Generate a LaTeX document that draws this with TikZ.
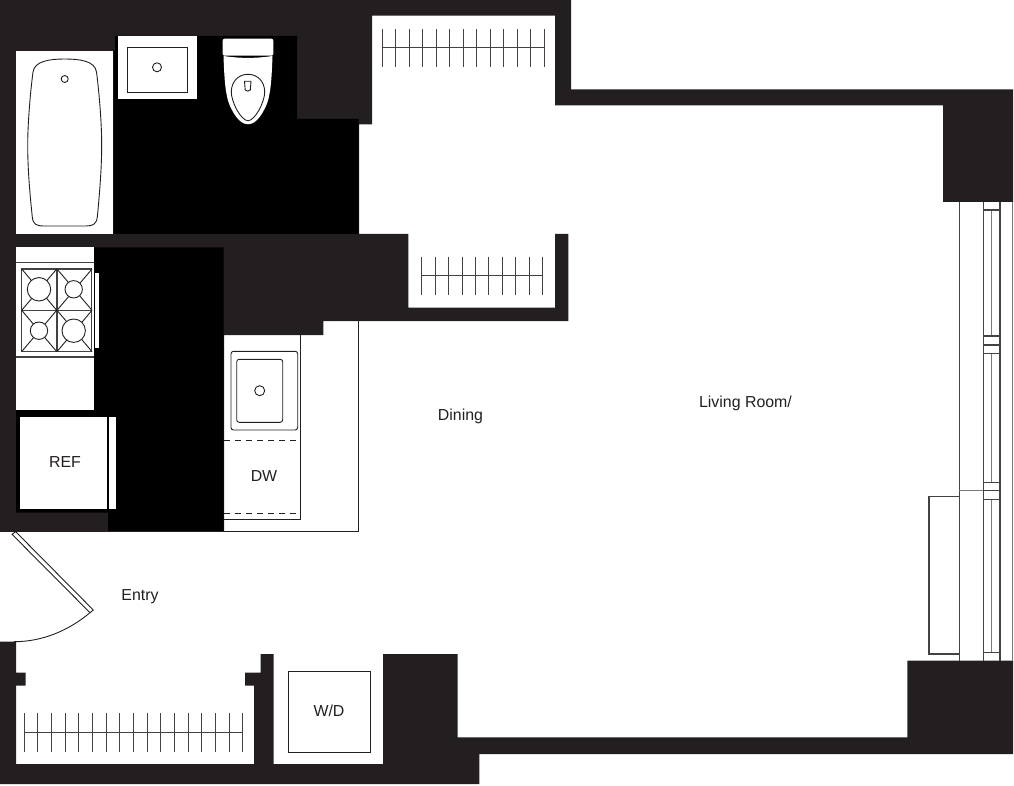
\documentclass[tikz,border=0pt]{standalone}
\usepackage{fontspec}
\setmainfont{Liberation Sans}
\usetikzlibrary{calc,positioning}
\definecolor{wallcol}{HTML}{231F20}
\tikzset{
  wall/.style={fill=wallcol,draw=none},
  fix/.style={draw=wallcol,line width=0.9pt},
  fixw/.style={draw=wallcol,line width=0.9pt,fill=white},
  stove/.style={draw=wallcol!85,line width=1.2pt},
  blackfill/.style={fill=black,draw=none},
  whitefill/.style={fill=white,draw=none},
  win/.style={draw=wallcol!85,line width=1.1pt},
  rod/.style={draw=wallcol!85,line width=1pt},
  lab/.style={text=wallcol,font=\fontsize{15.9}{18}\selectfont,inner sep=0pt}
}
\begin{document}
\begin{tikzpicture}[x=1pt,y=-1pt]
            \useasboundingbox (0,0) rectangle (1014,786);
            % upper walls
            \fill[wall] (0,0) -- (571,0) -- (571,89.3) -- (1013,89.3) -- (1013,202) -- (943,202) -- (943,105.3) -- (555,105.3) -- (555,15.7) -- (372,15.7) -- (372,124.3) -- (359,124.3) -- (359,234) -- (408.3,234) -- (408.3,307.7) -- (555,307.7) -- (555,234) -- (568.3,234) -- (568.3,321) -- (323.3,321) -- (323.3,335) -- (224,335) -- (224,531.7) -- (0,531.7) -- cycle;
            % lower walls
            \fill[wall] (0,641.7) -- (16,641.7) -- (16,672.7) -- (25.7,672.7) -- (25.7,685.7) -- (16,685.7) -- (16,764) -- (254,764) -- (254,685.7) -- (245,685.7) -- (245,672.7) -- (260.7,672.7) -- (260.7,654) -- (273.7,654) -- (273.7,764) -- (383,764) -- (383,654) -- (457.7,654) -- (457.7,737.3) -- (907.3,737.3) -- (907.3,660.7) -- (1013,660.7) -- (1013,754) -- (479.3,754) -- (479.3,784) -- (0,784) -- cycle;

            % bath and kitchen floors
            \fill[blackfill] (115,36) -- (297,36) -- (297,119) -- (358.7,119) -- (358.7,234) -- (113.5,234) -- (113.5,51) -- (115,51) -- cycle;
            \fill[blackfill] (94,247.5) -- (223.7,247.5) -- (223.7,531.7) -- (108,531.7) -- (108,512.7) -- (16,512.7) -- (16,410) -- (94,410) -- cycle;

            % bath
            \fill[whitefill] (16,51) rectangle (113,234);
            \draw[fix] (64.5,59) .. controls (80,59) and (95,61) .. (96.5,72) .. controls (99.5,95) and (101.7,125) .. (101.7,145) .. controls (101.7,170) and (99,200) .. (97.3,217) .. controls (96.5,224) and (93,226) .. (86,226) -- (44,226) .. controls (36,226) and (33,224) .. (32.3,217) .. controls (30,195) and (27.7,170) .. (27.7,145) .. controls (27.7,125) and (30,95) .. (33,72) .. controls (34.5,61) and (50,59) .. (64.5,59) -- cycle;
            \draw[fix] (64.7,79) circle (3.5);
            \fill[whitefill] (117.7,36) rectangle (197,99.3);
            \draw[fix] (127,47.3) rectangle (187.3,92);
            \draw[fix] (157,67.3) circle (4.5);

            % toilet
            \fill[whitefill,rounded corners=2pt] (222.7,38.7) rectangle (273.3,55.7);
            \fill[whitefill] (223.5,56) .. controls (240,58.5) and (256,58.5) .. (272.5,56) .. controls (271.5,85) and (270,100) .. (264,110) .. controls (259,120) and (253,124.3) .. (248,124.3) .. controls (243,124.3) and (237,120) .. (232,110) .. controls (226,100) and (224.5,85) .. (223.5,56) -- cycle;
            \draw[fix] (248,74.3) .. controls (258,74.3) and (264.7,82) .. (264.7,92) .. controls (264.7,102) and (255,120.7) .. (248,120.7) .. controls (241,120.7) and (231.3,102) .. (231.3,92) .. controls (231.3,82) and (238,74.3) .. (248,74.3) -- cycle;
            \draw[fix] (244.5,81.3) -- (251,81.3) -- (250.3,90) .. controls (249,91.5) and (246.5,91.5) .. (245.2,90) -- cycle;

            % range
            \fill[whitefill] (16,247.5) rectangle (94.3,410);
            \draw[stove] (16,262.7) -- (94.3,262.7);
            \draw[stove] (16,357) -- (94.3,357);
            \draw[stove] (21.7,269) rectangle (91.7,351.7);
            \draw[stove] (57,269) -- (57,351.7);
            \draw[stove] (21.7,310.3) -- (91.7,310.3);
            \foreach \cx/\cy in {21.7/269,57/269,21.7/310.3,57/310.3}{
              \draw[fix] (\cx,\cy) -- ++(35,41.3);
              \draw[fix] (\cx,\cy) ++(35,0) -- ++(-35,41.3);
            }
            \foreach \bx/\by/\br in {39/289.3/11.7,73.7/289.3/8.7,39/330.7/8.7,73.7/330.7/11.7}{
              \draw[fixw] (\bx,\by) circle (\br);
            }
            \fill[whitefill] (95,272.7) rectangle (99,348.3);

            % ref
            \fill[whitefill] (20.3,416.7) rectangle (106.7,509);
            \fill[whitefill] (109.3,416.7) rectangle (116.3,509);
            \node[lab] (ref) at (65,462) {REF};

            % counter and sink
            \draw[fix] (300.7,335) -- (300.7,519.3) -- (224,519.3);
            \draw[fix] (358.7,321) -- (358.7,531.7) -- (0,531.7);
            \draw[fix,rounded corners=2.5pt] (231,351.3) rectangle (297.7,430);
            \draw[fix,rounded corners=2.5pt] (236.7,359.3) rectangle (282.7,422.3);
            \draw[fix] (259.7,390.7) circle (5);
            \draw[fix,dashed,dash pattern=on 5.5pt off 5.5pt] (224,440) -- (300,440);
            \draw[fix,dashed,dash pattern=on 5.5pt off 5.5pt] (224,513.3) -- (300,513.3);
            \node[lab] (dw) at (264,476) {DW};

            % entry door
            \draw[fix] (12,534.3) -- (15.7,531.7) -- (93.3,610) -- (90,612.7) -- cycle;
            \draw[fix] (90,612.7) .. controls (68,631) and (42,641.7) .. (14,641.7);

            % closet rods
            \draw[rod] (382.3,47.7) -- (544.3,47.7);
            \foreach \i in {0,...,12}{
              \draw[rod] ({382.3+13.5*\i},29) -- ({382.3+13.5*\i},66.7);
            }
            \draw[rod] (421.7,275.3) -- (542.7,275.3);
            \foreach \i in {0,...,9}{
              \draw[rod] ({421.7+13.44*\i},256.7) -- ({421.7+13.44*\i},294.7);
            }
            \draw[rod] (24.3,732) -- (242.7,732);
            \foreach \i in {0,...,16}{
              \draw[rod] ({24.3+13.65*\i},713.3) -- ({24.3+13.65*\i},751.7);
            }

            % w/d
            \draw[fix] (288.3,671) rectangle (370,752.7);
            \node[lab] (wd) at (329,711) {W/D};

            % window wall
            \draw[win] (959.3,202) -- (959.3,660.7);
            \draw[win] (983.3,202) -- (983.3,660.7);
            \draw[win] (1000,202) -- (1000,660.7);
            \draw[draw=wallcol!60,line width=1.4pt] (1012.3,202) -- (1012.3,660.7);
            \draw[draw=wallcol!60,line width=1.1pt] (991.7,210) -- (991.7,336);
            \draw[draw=wallcol!60,line width=1.1pt] (991.7,353.3) -- (991.7,482.3);
            \draw[draw=wallcol!60,line width=1.1pt] (991.7,499.3) -- (991.7,652.3);
            \foreach \wy in {210,336,345,353.3,482.3,490.7,499.3,652.3}{
              \draw[win] (983.3,\wy) -- (1000,\wy);
            }
            \draw[draw=wallcol!60,line width=1.1pt] (959.3,490.7) -- (983.3,490.7);
            \draw[win] (959.3,496.7) -- (929,496.7) -- (929,654) -- (959.3,654);

            % room names
            \node[lab] (dining) at (460.5,416.5) {Dining};
            \node[lab] (living) at (745.5,403.5) {Living Room/};
            \node[lab] (entry) at (140,597) {Entry};
\end{tikzpicture}
\end{document}
